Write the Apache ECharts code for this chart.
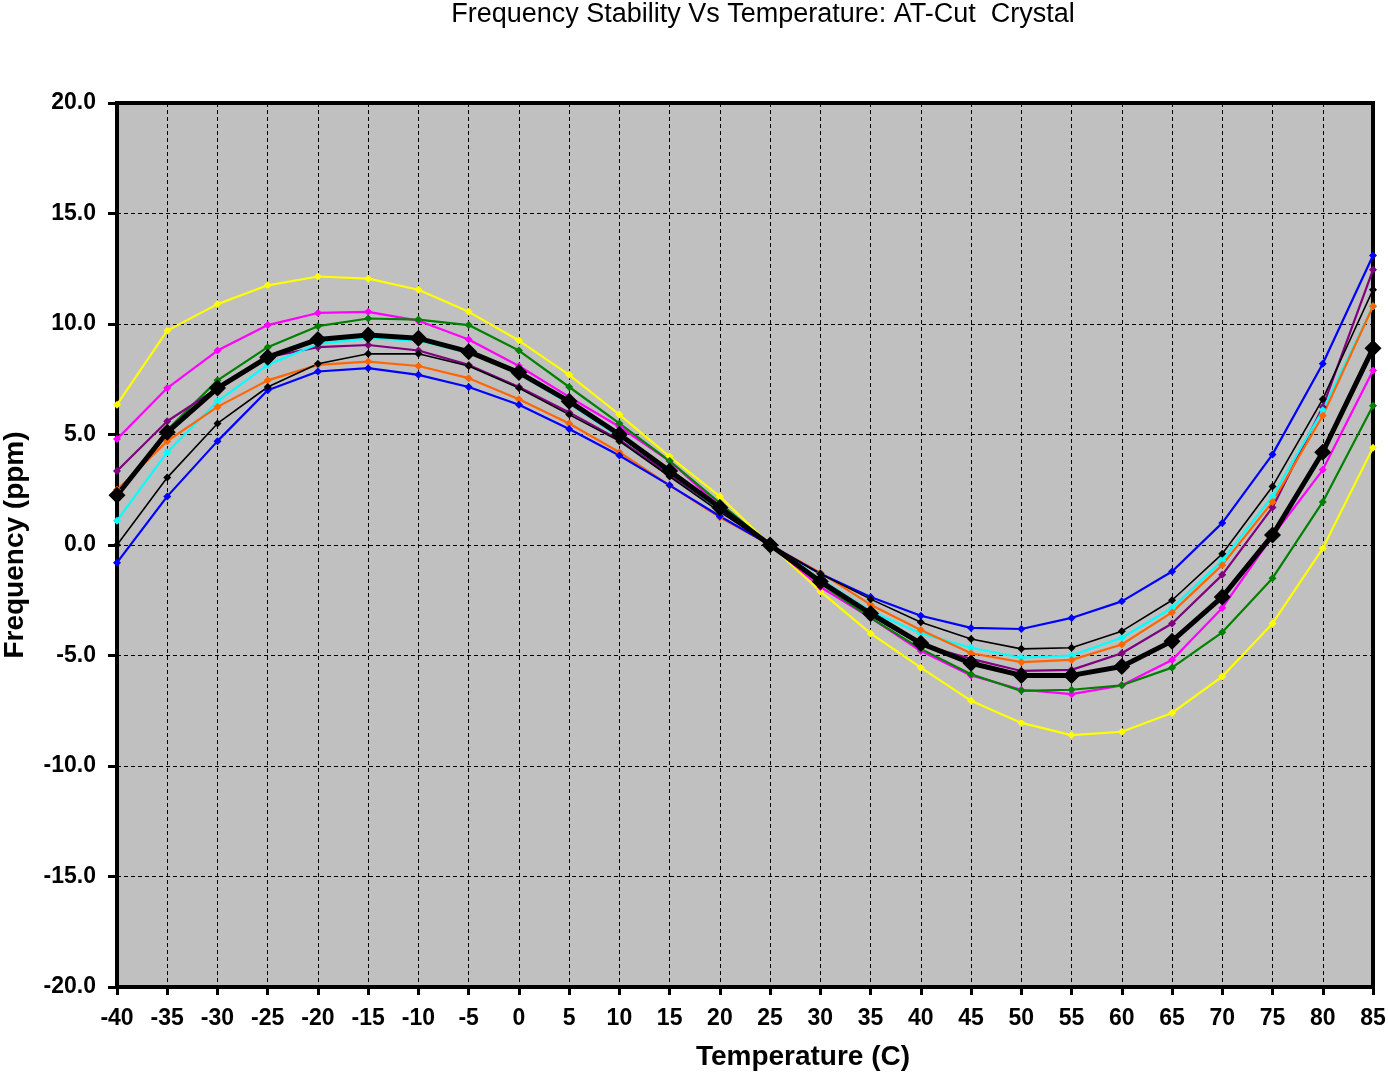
<!DOCTYPE html>
<html>
<head>
<meta charset="utf-8">
<script src="https://cdn.jsdelivr.net/npm/echarts@6/dist/echarts.min.js"></script>
<style>html,body{margin:0;padding:0;background:#fff;}#main{width:1388px;height:1072px;}</style>
</head>
<body>
<div id="main"></div>
<script>
const temps = [-40,-35,-30,-25,-20,-15,-10,-5,0,5,10,15,20,25,30,35,40,45,50,55,60,65,70,75,80,85];
const yellowVals  = [6.35,9.7,10.9,11.75,12.15,12.05,11.55,10.55,9.25,7.7,5.9,4.0,2.2,0,-2.1,-4.0,-5.55,-7.05,-8.05,-8.6,-8.45,-7.6,-5.95,-3.55,-0.15,4.4];
const magentaVals = [4.8,7.1,8.8,9.95,10.5,10.55,10.15,9.3,8.1,6.7,5.35,3.8,1.75,0,-1.9,-3.3,-4.8,-5.9,-6.55,-6.75,-6.35,-5.2,-2.85,0.4,3.4,7.9];
const greenVals   = [2.25,5.2,7.45,8.95,9.9,10.25,10.2,9.95,8.8,7.15,5.5,3.8,1.9,0,-1.75,-3.3,-4.7,-5.85,-6.6,-6.55,-6.35,-5.55,-3.95,-1.5,1.95,6.3];
const purpleVals  = [3.35,5.6,7.1,8.5,8.95,9.05,8.8,8.15,7.15,6.0,4.75,3.2,1.6,0,-1.65,-3.15,-4.5,-5.15,-5.7,-5.65,-4.9,-3.55,-1.35,1.7,6.25,12.45];
const cyanVals    = [1.1,4.2,6.5,8.15,9.1,9.35,9.25,8.7,7.75,6.4,4.9,3.3,1.6,0,-1.55,-3.0,-4.0,-4.65,-5.1,-5.0,-4.2,-2.85,-0.7,2.2,6.1,10.8];
const orangeVals  = [2.5,4.7,6.25,7.45,8.15,8.3,8.1,7.55,6.6,5.5,4.2,2.7,1.25,0,-1.25,-2.7,-3.85,-4.9,-5.3,-5.2,-4.5,-3.05,-0.9,1.95,5.85,10.8];
const blueVals    = [-0.8,2.2,4.7,7.0,7.85,8.0,7.7,7.15,6.35,5.25,4.05,2.7,1.3,0,-1.3,-2.35,-3.2,-3.75,-3.8,-3.3,-2.55,-1.2,1.0,4.1,8.2,13.1];
const blackThinVals  = [0.0,3.05,5.5,7.15,8.2,8.65,8.65,8.1,7.1,5.9,4.7,3.1,1.5,0,-1.3,-2.45,-3.5,-4.25,-4.7,-4.65,-3.9,-2.5,-0.4,2.65,6.6,11.55];
const blackThickVals = [2.25,5.1,7.1,8.5,9.3,9.5,9.35,8.75,7.8,6.5,5.0,3.35,1.7,0,-1.65,-3.1,-4.45,-5.35,-5.9,-5.9,-5.5,-4.35,-2.35,0.45,4.2,8.9];

const titleText = 'Frequency Stability Vs Temperature: AT-Cut  Crystal';
const xName = 'Temperature (C)';
const yName = 'Frequency (ppm)';

const FONT = '"Liberation Sans", Arial, sans-serif';

function pairs(vals){ return temps.map((t,i)=>[t, vals[i]]); }
function thin(name, color, vals, width){
  return {
    name, type:'line', data: pairs(vals),
    symbol:'diamond', symbolSize:8, showSymbol:true,
    lineStyle:{color, width: width||2.2},
    itemStyle:{color},
    emphasis:{disabled:true}, animation:false
  };
}

const chart = echarts.init(document.getElementById('main'));
chart.setOption({
  backgroundColor:'#ffffff',
  animation:false,
  title:{
    text:titleText, left:758, top:-4, textAlign:'center',
    textStyle:{fontFamily:FONT, fontSize:27, fontWeight:'normal', color:'#000'}
  },
  grid:{left:117, right:15, top:103, bottom:85, outerBoundsMode:'none', containLabel:false,
        show:true, backgroundColor:'#C0C0C0', borderColor:'#000', borderWidth:4},
  xAxis:{
    type:'value', min:-40, max:85, interval:5,
    name:xName, nameLocation:'middle', nameGap:56,
    nameTextStyle:{fontFamily:FONT, fontSize:28, fontWeight:'bold', color:'#000', padding:[0,0,0,116]},
    axisLine:{show:true, onZero:false, lineStyle:{color:'#000', width:4}},
    axisTick:{show:true, length:8, lineStyle:{color:'#000', width:3}},
    axisLabel:{margin:20, fontFamily:FONT, fontSize:23, fontWeight:'bold', color:'#000'},
    splitLine:{show:true, lineStyle:{color:'#000', width:1, type:[4,3]}}
  },
  yAxis:{
    type:'value', min:-20, max:20, interval:5,
    name:yName, nameLocation:'middle', nameGap:88,
    nameTextStyle:{fontFamily:FONT, fontSize:28, fontWeight:'bold', color:'#000'},
    axisLine:{show:true, onZero:false, lineStyle:{color:'#000', width:4}},
    axisTick:{show:true, length:9, lineStyle:{color:'#000', width:3}},
    axisLabel:{margin:21, fontFamily:FONT, fontSize:23, fontWeight:'bold', color:'#000', formatter:v=>v.toFixed(1)},
    splitLine:{show:true, lineStyle:{color:'#000', width:1, type:[4,3]}}
  },
  series:[
    thin('yellow','#FFFF00',yellowVals),
    thin('magenta','#FF00FF',magentaVals),
    thin('green','#008000',greenVals),
    thin('purple','#800080',purpleVals),
    thin('cyan','#00FFFF',cyanVals),
    thin('orange','#FF6600',orangeVals),
    thin('blue','#0000FF',blueVals),
    thin('black','#000000',blackThinVals,1.6),
    {
      name:'blackThick', type:'line', data:pairs(blackThickVals),
      symbol:'diamond', symbolSize:17, showSymbol:true,
      lineStyle:{color:'#000', width:5}, itemStyle:{color:'#000'},
      emphasis:{disabled:true}, animation:false
    }
  ]
});
</script>
</body>
</html>
